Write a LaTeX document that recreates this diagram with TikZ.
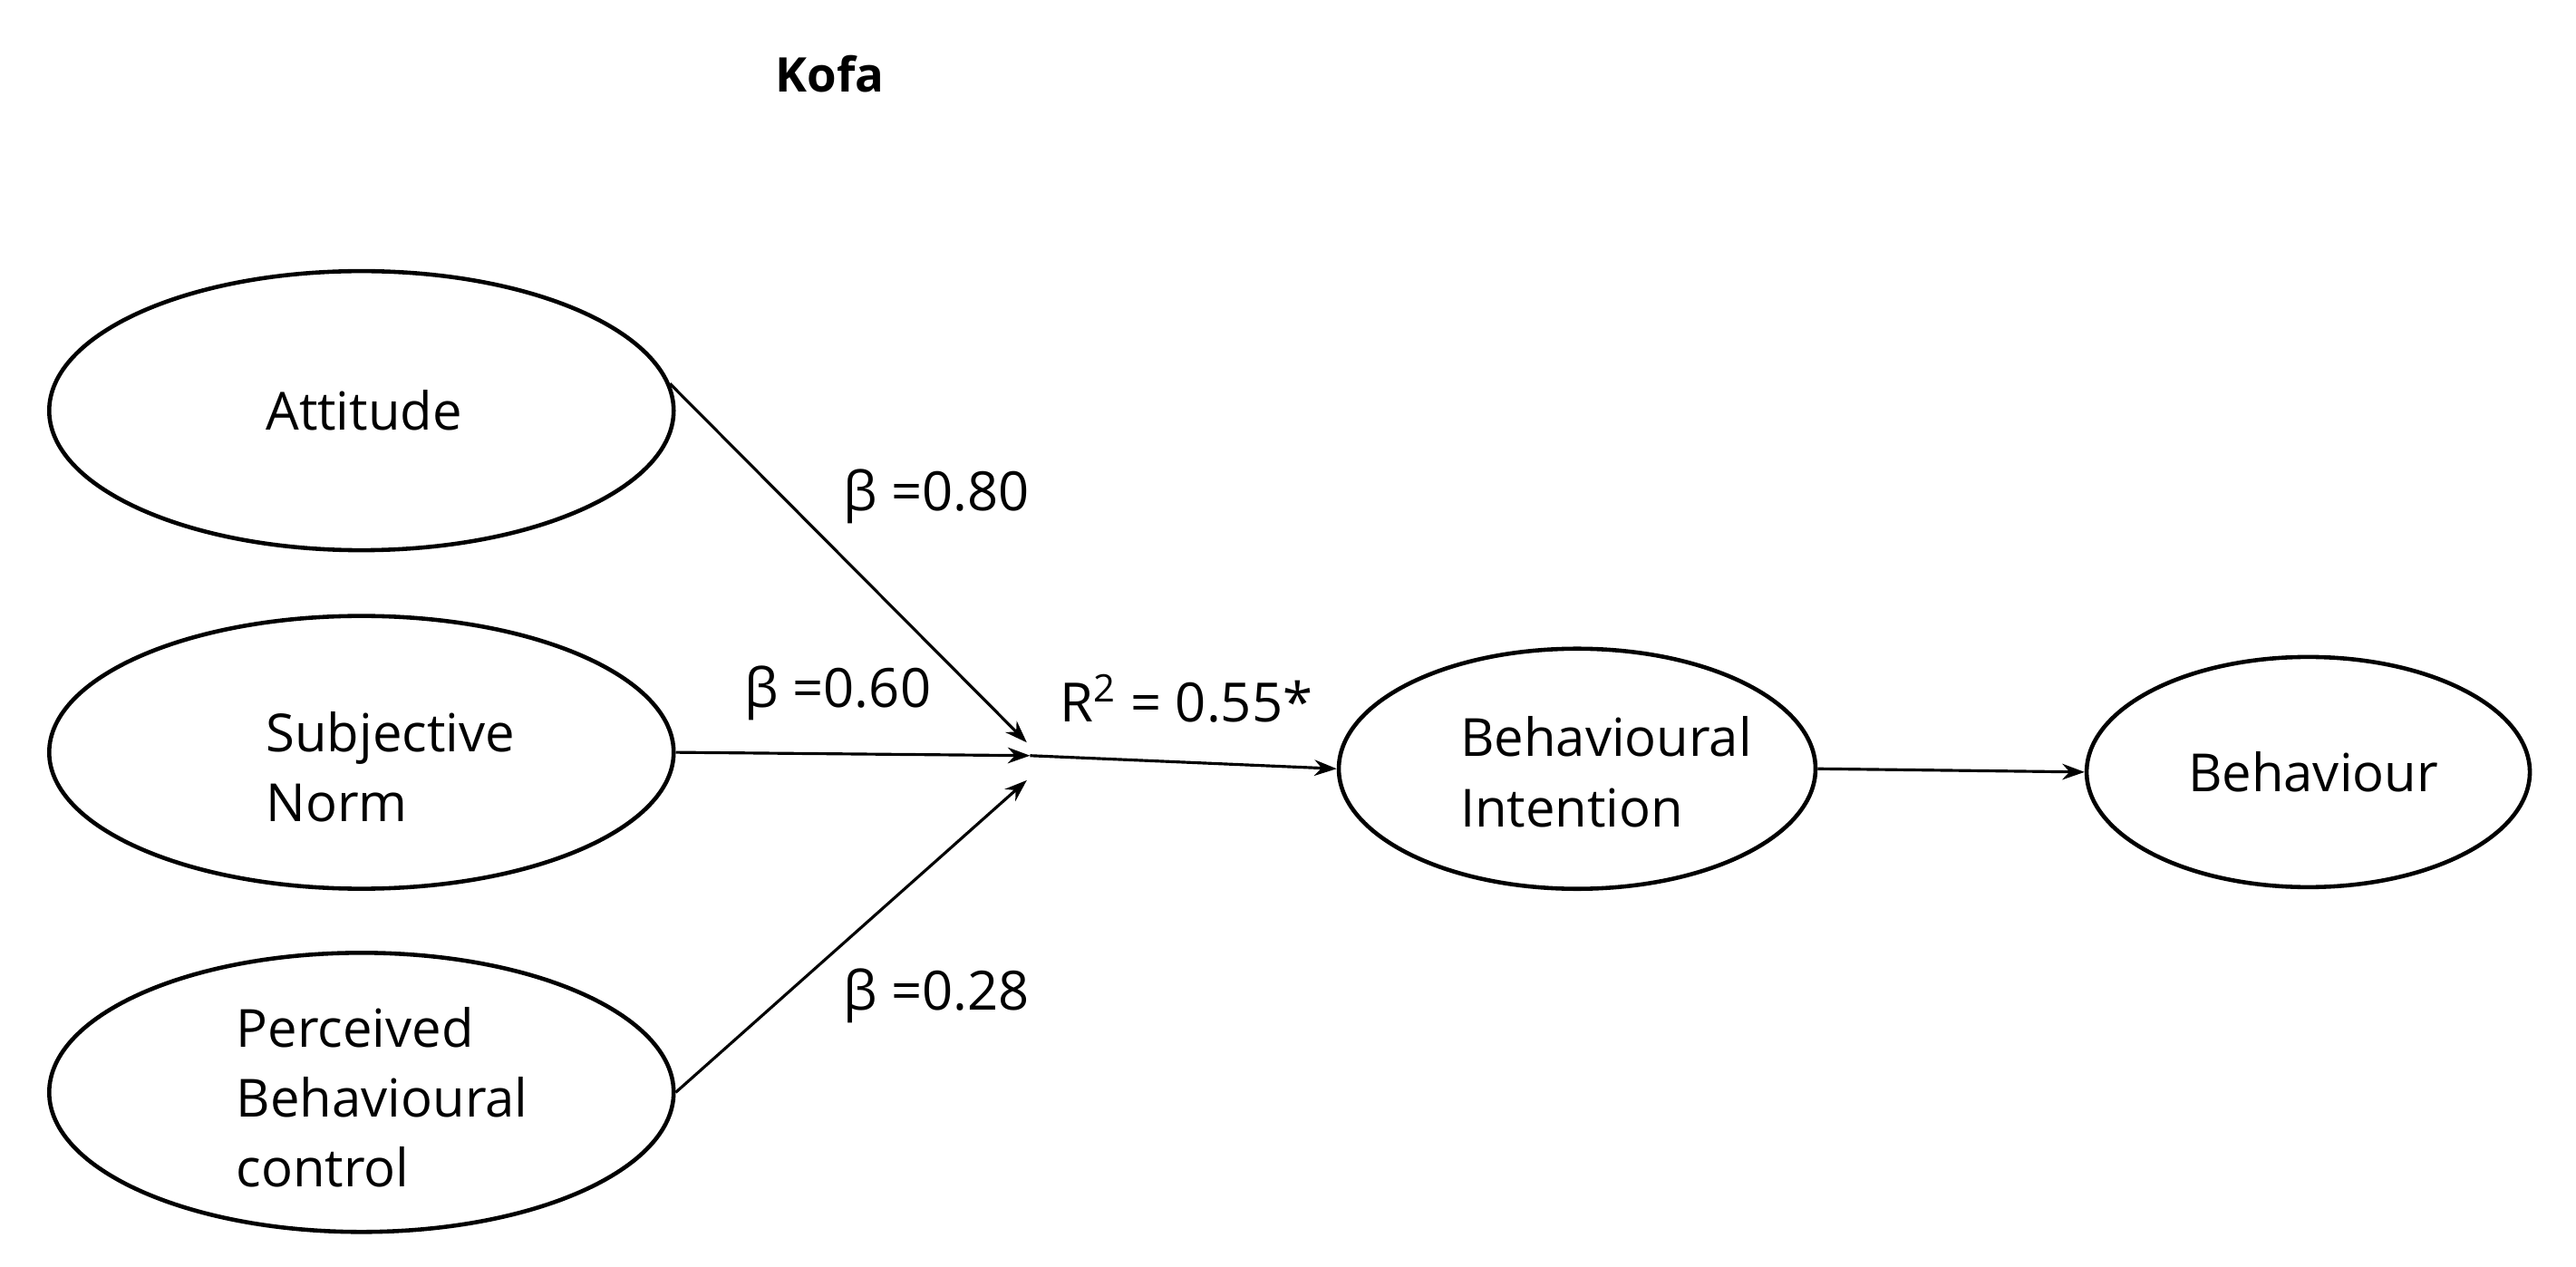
\documentclass[tikz,border=0pt]{standalone}
\usepackage{fontspec}
\setmainfont{Open Sans}
\usetikzlibrary{shapes.geometric,arrows.meta}
\begin{document}
\begin{tikzpicture}[x=0.018125cm,y=-0.018125cm,
  ell/.style={draw,ellipse,line width=1.3pt,inner sep=0pt},
  txt/.style={font=\fontsize{16.5}{22}\selectfont,align=left,anchor=west},
  lab/.style={font=\fontsize{17}{20}\selectfont},
  arr/.style={line width=0.9pt,-{Stealth[length=7pt,width=5pt]}}]
\useasboundingbox (0,0) rectangle (1568,770.8);
\node[font=\fontsize{15}{18}\selectfont\bfseries] (kofa) at (505,45) {Kofa};
\node[ell,minimum width=6.89cm,minimum height=3.08cm] (att) at (220,250) {};
\node[ell,minimum width=6.89cm,minimum height=3.01cm] (sn) at (220,458) {};
\node[ell,minimum width=6.89cm,minimum height=3.08cm] (pbc) at (220,665) {};
\node[ell,minimum width=5.26cm,minimum height=2.65cm] (bi) at (960,468) {};
\node[ell,minimum width=4.89cm,minimum height=2.54cm] (beh) at (1405,470) {};
\node[txt] (tatt) at (155,250) {Attitude};
\node[txt] (tsn) at (155,467) {Subjective\\Norm};
\node[txt] (tpbc) at (137,668) {Perceived\\Behavioural\\control};
\node[txt] (tbi) at (882,470) {Behavioural\\Intention};
\node[txt] (tbeh) at (1325,470) {Behaviour};
\coordinate (j) at (627,460);
\coordinate (ja) at (625,452);
\coordinate (jc) at (625,475);
\draw[arr] (att.5) -- (ja);
\draw[arr] (sn.east) -- (j);
\draw[arr] (pbc.0) -- (jc);
\draw[arr] (j) -- (bi.west);
\draw[arr] (bi.east) -- (beh.west);
\node[lab] (l1) at (570,302) {β =0.80};
\node[lab] (l2) at (510,422) {β =0.60};
\node[lab] (l3) at (570,606) {β =0.28};
\node[lab] (r2) at (722,425) {R\textsuperscript{2} = 0.55*};
\end{tikzpicture}
\end{document}
